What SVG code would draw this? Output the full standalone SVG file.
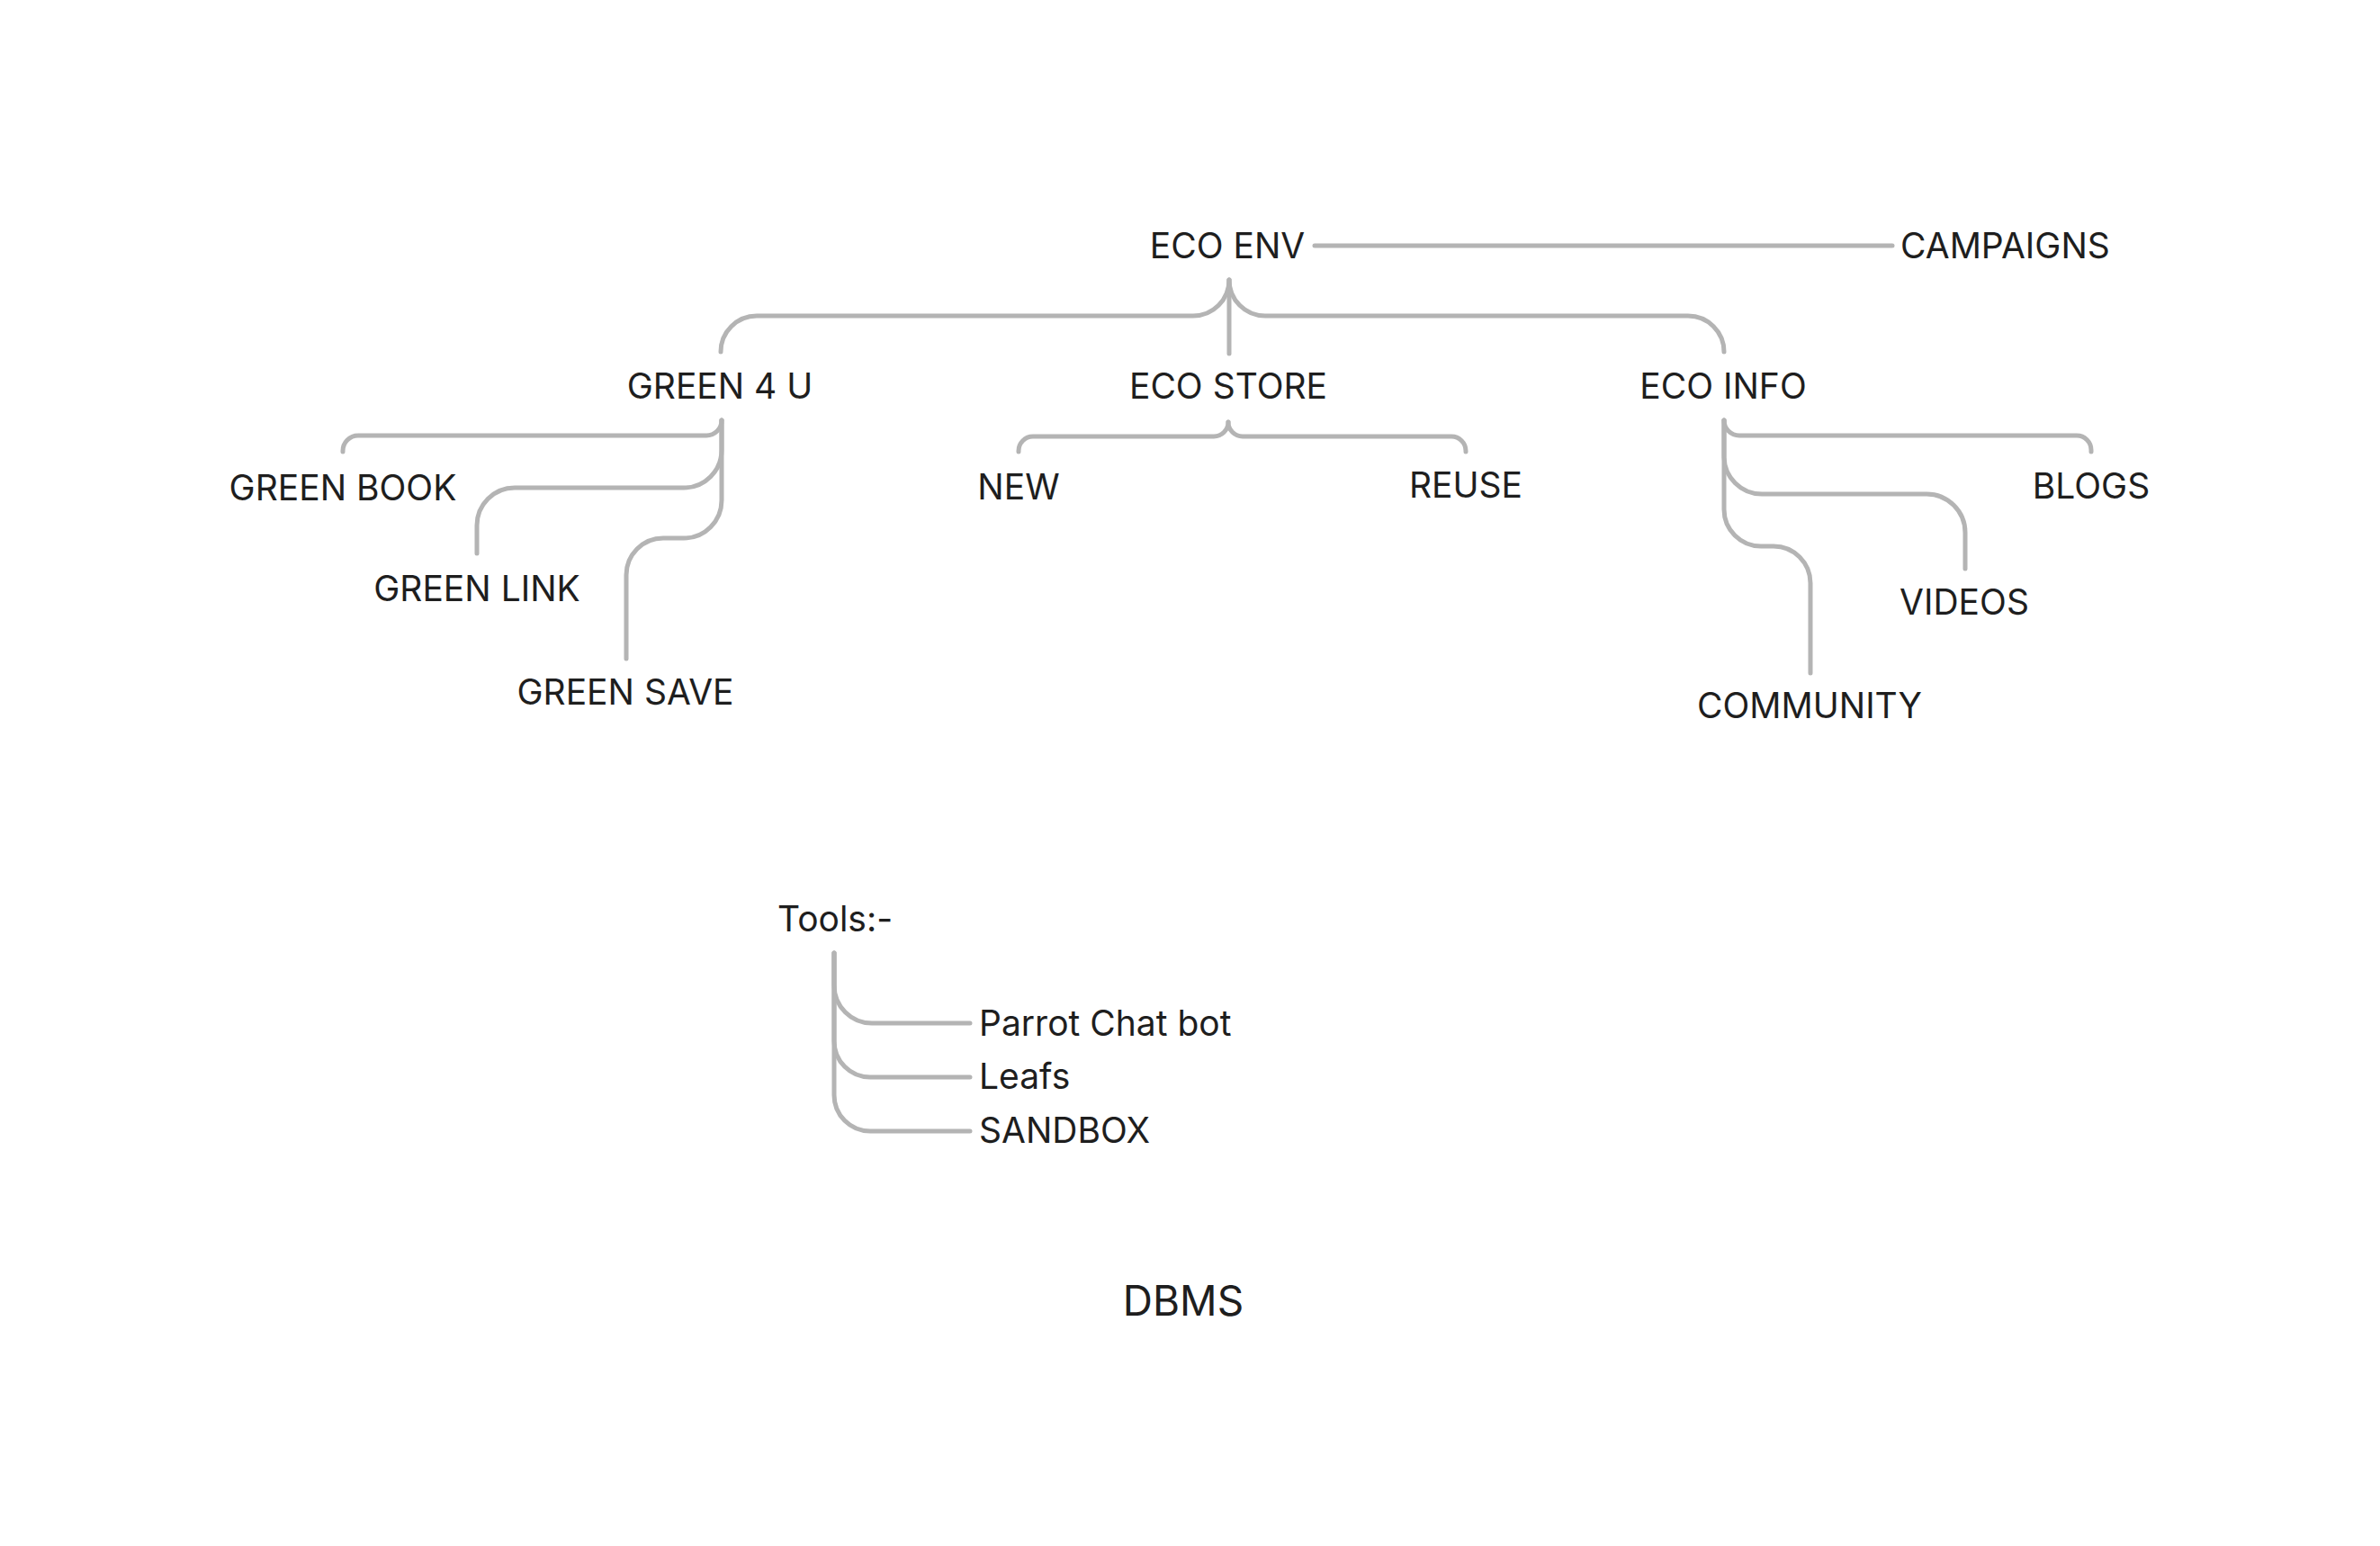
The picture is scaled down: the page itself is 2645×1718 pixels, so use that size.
<svg xmlns="http://www.w3.org/2000/svg" width="2645" height="1718" viewBox="0 0 2645 1718">
<style>
.bg{fill:#ffffff}
.lbl{font-family:Inter,"Liberation Sans",sans-serif;font-size:39px;fill:#1e1e1e}
.mid{text-anchor:middle}
.big{font-size:46px}
.conn path{fill:none;stroke:#b4b4b4;stroke-width:5;stroke-linecap:round;stroke-linejoin:round}
</style>
<rect class="bg" x="0" y="0" width="2645" height="1718"/>
<g id="connectors" class="conn">
<path d="M1461,273 H2103"/>
<path d="M1366,311 A40,40 0 0 1 1326,351 H841 A40,40 0 0 0 801,391"/>
<path d="M1366,311 V393"/>
<path d="M1366,311 A40,40 0 0 0 1406,351 H1876 A40,40 0 0 1 1916,391"/>
<path d="M802,467 A17,17 0 0 1 785,484 H398 A17,17 0 0 0 381,501 V502"/>
<path d="M802,467 V500 A42,42 0 0 1 760,542 H572 A42,42 0 0 0 530,584 V615"/>
<path d="M802,467 V556 A42,42 0 0 1 760,598 H737 A41,41 0 0 0 696,639 V732"/>
<path d="M1365,469 A16,16 0 0 1 1349,485 H1148 A16,16 0 0 0 1132,501 V502"/>
<path d="M1365,469 A16,16 0 0 0 1381,485 H1613 A16,16 0 0 1 1629,501 V502"/>
<path d="M1916,467 A17,17 0 0 0 1933,484 H2308 A16,16 0 0 1 2324,500 V502"/>
<path d="M1916,467 V507 A42,42 0 0 0 1958,549 H2141 A43,43 0 0 1 2184,592 V632"/>
<path d="M1916,467 V566 A41,41 0 0 0 1957,607 H1971 A41,41 0 0 1 2012,648 V748"/>
<path d="M927,1059 V1095 A42,42 0 0 0 969,1137 H1078"/>
<path d="M927,1059 V1157 A40,40 0 0 0 967,1197 H1078"/>
<path d="M927,1059 V1217 A40,40 0 0 0 967,1257 H1078"/>
</g>
<g id="node-eco-env"><text class="lbl mid" x="1364" y="287">ECO ENV</text></g>
<g id="node-campaigns"><text class="lbl" x="2112" y="287">CAMPAIGNS</text></g>
<g id="node-green4u"><text class="lbl mid" x="800" y="443">GREEN 4 U</text></g>
<g id="node-eco-store"><text class="lbl mid" x="1365" y="443">ECO STORE</text></g>
<g id="node-eco-info"><text class="lbl mid" x="1915" y="443">ECO INFO</text></g>
<g id="node-green-book"><text class="lbl mid" x="381" y="556">GREEN BOOK</text></g>
<g id="node-green-link"><text class="lbl mid" x="530" y="668">GREEN LINK</text></g>
<g id="node-green-save"><text class="lbl mid" x="695" y="783">GREEN SAVE</text></g>
<g id="node-new"><text class="lbl mid" x="1132" y="555">NEW</text></g>
<g id="node-reuse"><text class="lbl mid" x="1629" y="553">REUSE</text></g>
<g id="node-blogs"><text class="lbl mid" x="2324" y="554">BLOGS</text></g>
<g id="node-videos"><text class="lbl mid" x="2183" y="683">VIDEOS</text></g>
<g id="node-community"><text class="lbl mid" x="2011" y="798">COMMUNITY</text></g>
<g id="node-tools"><text class="lbl" x="864" y="1035">Tools:-</text></g>
<g id="node-parrot"><text class="lbl" x="1088" y="1151">Parrot Chat bot</text></g>
<g id="node-leafs"><text class="lbl" x="1088" y="1210">Leafs</text></g>
<g id="node-sandbox"><text class="lbl" x="1088" y="1270">SANDBOX</text></g>
<g id="node-dbms"><text class="lbl big mid" x="1315" y="1462">DBMS</text></g>
</svg>
